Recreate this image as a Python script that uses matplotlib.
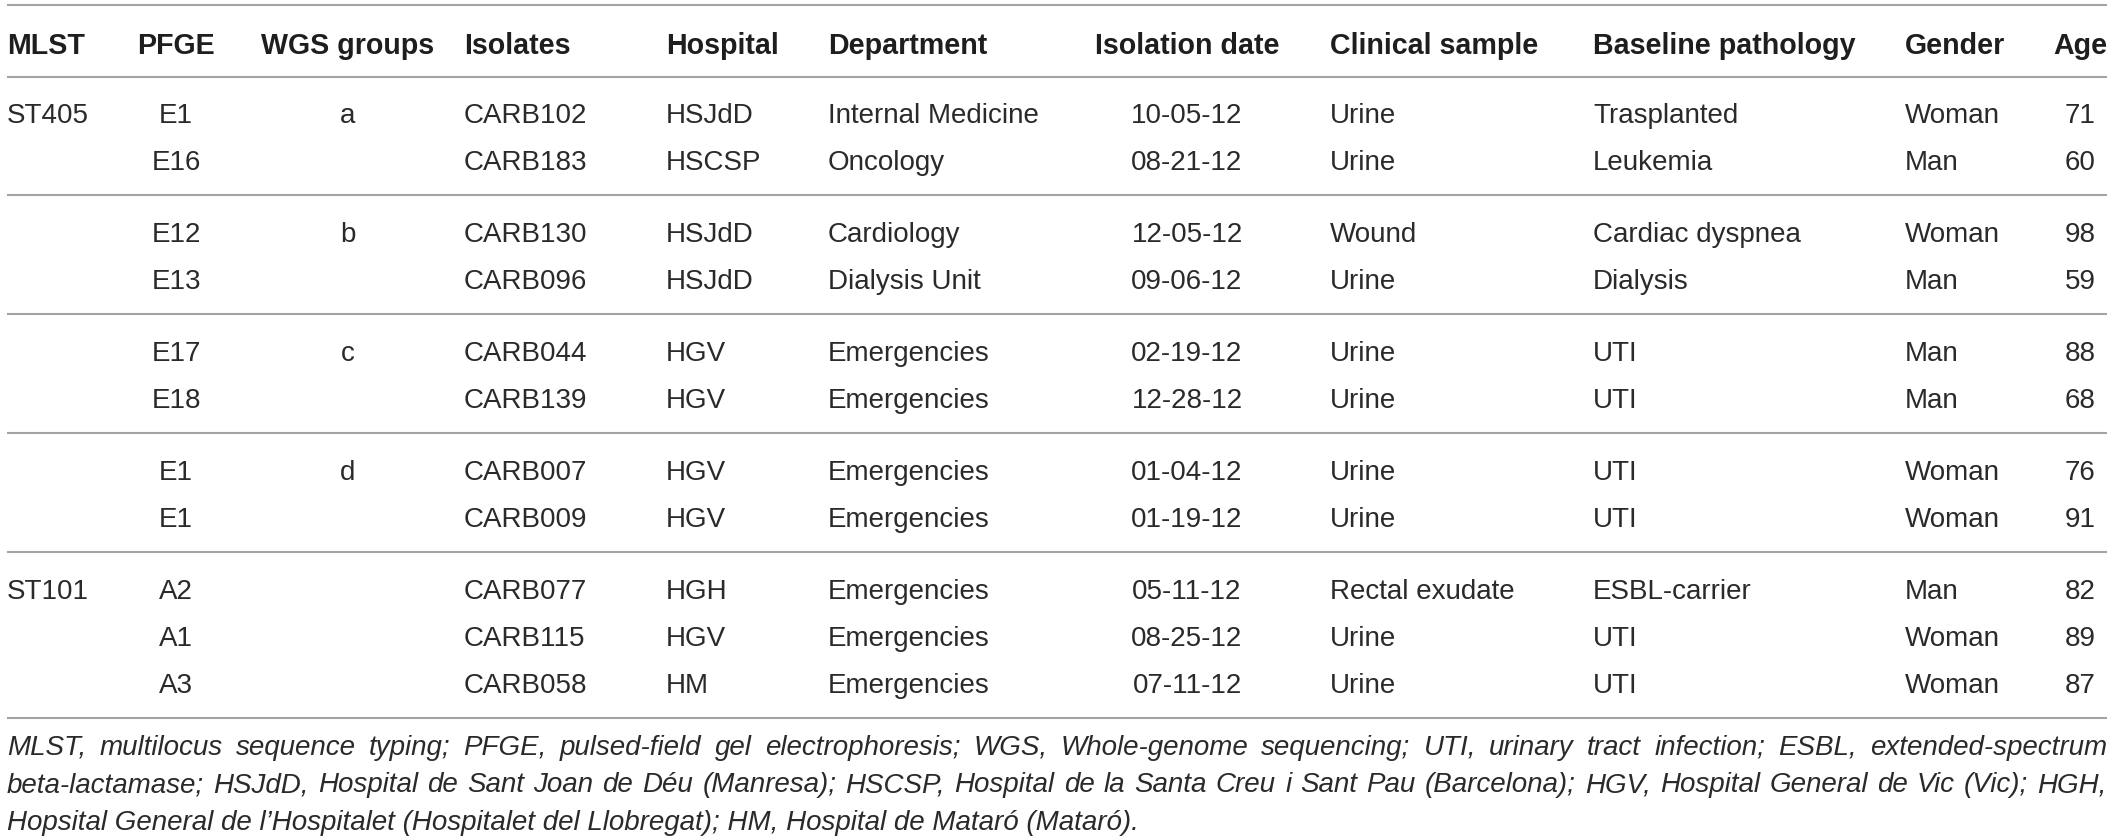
import matplotlib
matplotlib.use("Agg")
import matplotlib.pyplot as plt

# ---------------- data ----------------
headers = ["MLST", "PFGE", "WGS groups", "Isolates", "Hospital", "Department",
           "Isolation date", "Clinical sample", "Baseline pathology", "Gender", "Age"]
group_sizes = [2, 2, 2, 2, 3]
mlst = ["ST405", "", "", "", "", "", "", "", "ST101", "", ""]
pfge = ["E1", "E16", "E12", "E13", "E17", "E18", "E1", "E1", "A2", "A1", "A3"]
wgs = ["a", "", "b", "", "c", "", "d", "", "", "", ""]
isolates = ["CARB102", "CARB183", "CARB130", "CARB096", "CARB044", "CARB139",
            "CARB007", "CARB009", "CARB077", "CARB115", "CARB058"]
hospital = ["HSJdD", "HSCSP", "HSJdD", "HSJdD", "HGV", "HGV", "HGV", "HGV",
            "HGH", "HGV", "HM"]
department = ["Internal Medicine", "Oncology", "Cardiology", "Dialysis Unit",
              "Emergencies", "Emergencies", "Emergencies", "Emergencies",
              "Emergencies", "Emergencies", "Emergencies"]
isolation_date = ["10-05-12", "08-21-12", "12-05-12", "09-06-12", "02-19-12",
                  "12-28-12", "01-04-12", "01-19-12", "05-11-12", "08-25-12", "07-11-12"]
clinical_sample = ["Urine", "Urine", "Wound", "Urine", "Urine", "Urine", "Urine",
                   "Urine", "Rectal exudate", "Urine", "Urine"]
pathology = ["Trasplanted", "Leukemia", "Cardiac dyspnea", "Dialysis", "UTI", "UTI",
             "UTI", "UTI", "ESBL-carrier", "UTI", "UTI"]
gender = ["Woman", "Man", "Woman", "Man", "Man", "Man", "Woman", "Woman",
          "Man", "Woman", "Woman"]
age = [71, 60, 98, 59, 88, 68, 76, 91, 82, 89, 87]

footnote_lines = [
    "MLST, multilocus sequence typing; PFGE, pulsed-field gel electrophoresis; WGS, Whole-genome sequencing; UTI, urinary tract infection; ESBL, extended-spectrum",
    "beta-lactamase; HSJdD, Hospital de Sant Joan de Déu (Manresa); HSCSP, Hospital de la Santa Creu i Sant Pau (Barcelona); HGV, Hospital General de Vic (Vic); HGH,",
    "Hopsital General de l\u2019Hospitalet (Hospitalet del Llobregat); HM, Hospital de Mataró (Mataró).",
]

columns = [mlst, pfge, wgs, isolates, hospital, department, isolation_date,
           clinical_sample, pathology, gender, [str(a) for a in age]]

# ---------------- layout ----------------
W, H = 2120, 840
col_x = [7, 176, 348, 464, 666, 828, 1187, 1330, 1593, 1905, 2080]
col_ha = ["left", "center", "center", "left", "left", "left", "center",
          "left", "left", "left", "center"]
left_edge, right_edge = 7, 2107
rule_color = "#a3a3a3"
text_color = "#2a2a2a"
head_color = "#1e1e1e"
font = "Liberation Sans"
body_size = 20
head_size = 20.6

fig = plt.figure(figsize=(W / 100, H / 100), dpi=100)
ax = fig.add_axes([0, 0, 1, 1])
ax.set_xlim(0, W)
ax.set_ylim(H, 0)
ax.axis("off")

# top rule and header
rules = [5, 77]
for x, h, ha in zip(col_x, headers, col_ha):
    ax.text(x, 53.5, h, ha=ha, va="baseline", fontsize=head_size,
            fontweight="bold", family=font, color=head_color)

# body rows
row_y = []
y = 112
for g in group_sizes:
    for k in range(g):
        row_y.append(y + 47 * k)
    last = y + 47 * (g - 1)
    rule = last + 36
    rules.append(rule)
    y = rule + 36

for col, x, ha in zip(columns, col_x, col_ha):
    for ry, val in zip(row_y, col):
        if val:
            ax.text(x, ry + 11, val, ha=ha, va="baseline", fontsize=body_size,
                    family=font, color=text_color)

ax.hlines(rules, left_edge, right_edge, colors=rule_color, linewidth=1.5)

# footnote (justified except last line)
fig.canvas.draw()
renderer = fig.canvas.get_renderer()
foot_base = [755, 792.5, 830]
for i, (line, by) in enumerate(zip(footnote_lines, foot_base)):
    if i == len(footnote_lines) - 1:
        ax.text(left_edge, by, line, ha="left", va="baseline", fontsize=body_size,
                family=font, style="italic", color=text_color)
        continue
    words = line.split(" ")
    objs = [ax.text(0, by, w, ha="left", va="baseline", fontsize=body_size,
                    family=font, style="italic", color=text_color) for w in words]
    widths = [o.get_window_extent(renderer=renderer).width for o in objs]
    gap = (right_edge - left_edge - sum(widths)) / (len(words) - 1)
    x = left_edge
    for o, wd in zip(objs, widths):
        o.set_x(x)
        x += wd + gap

fig.savefig("out.png", dpi=100, facecolor="white")
